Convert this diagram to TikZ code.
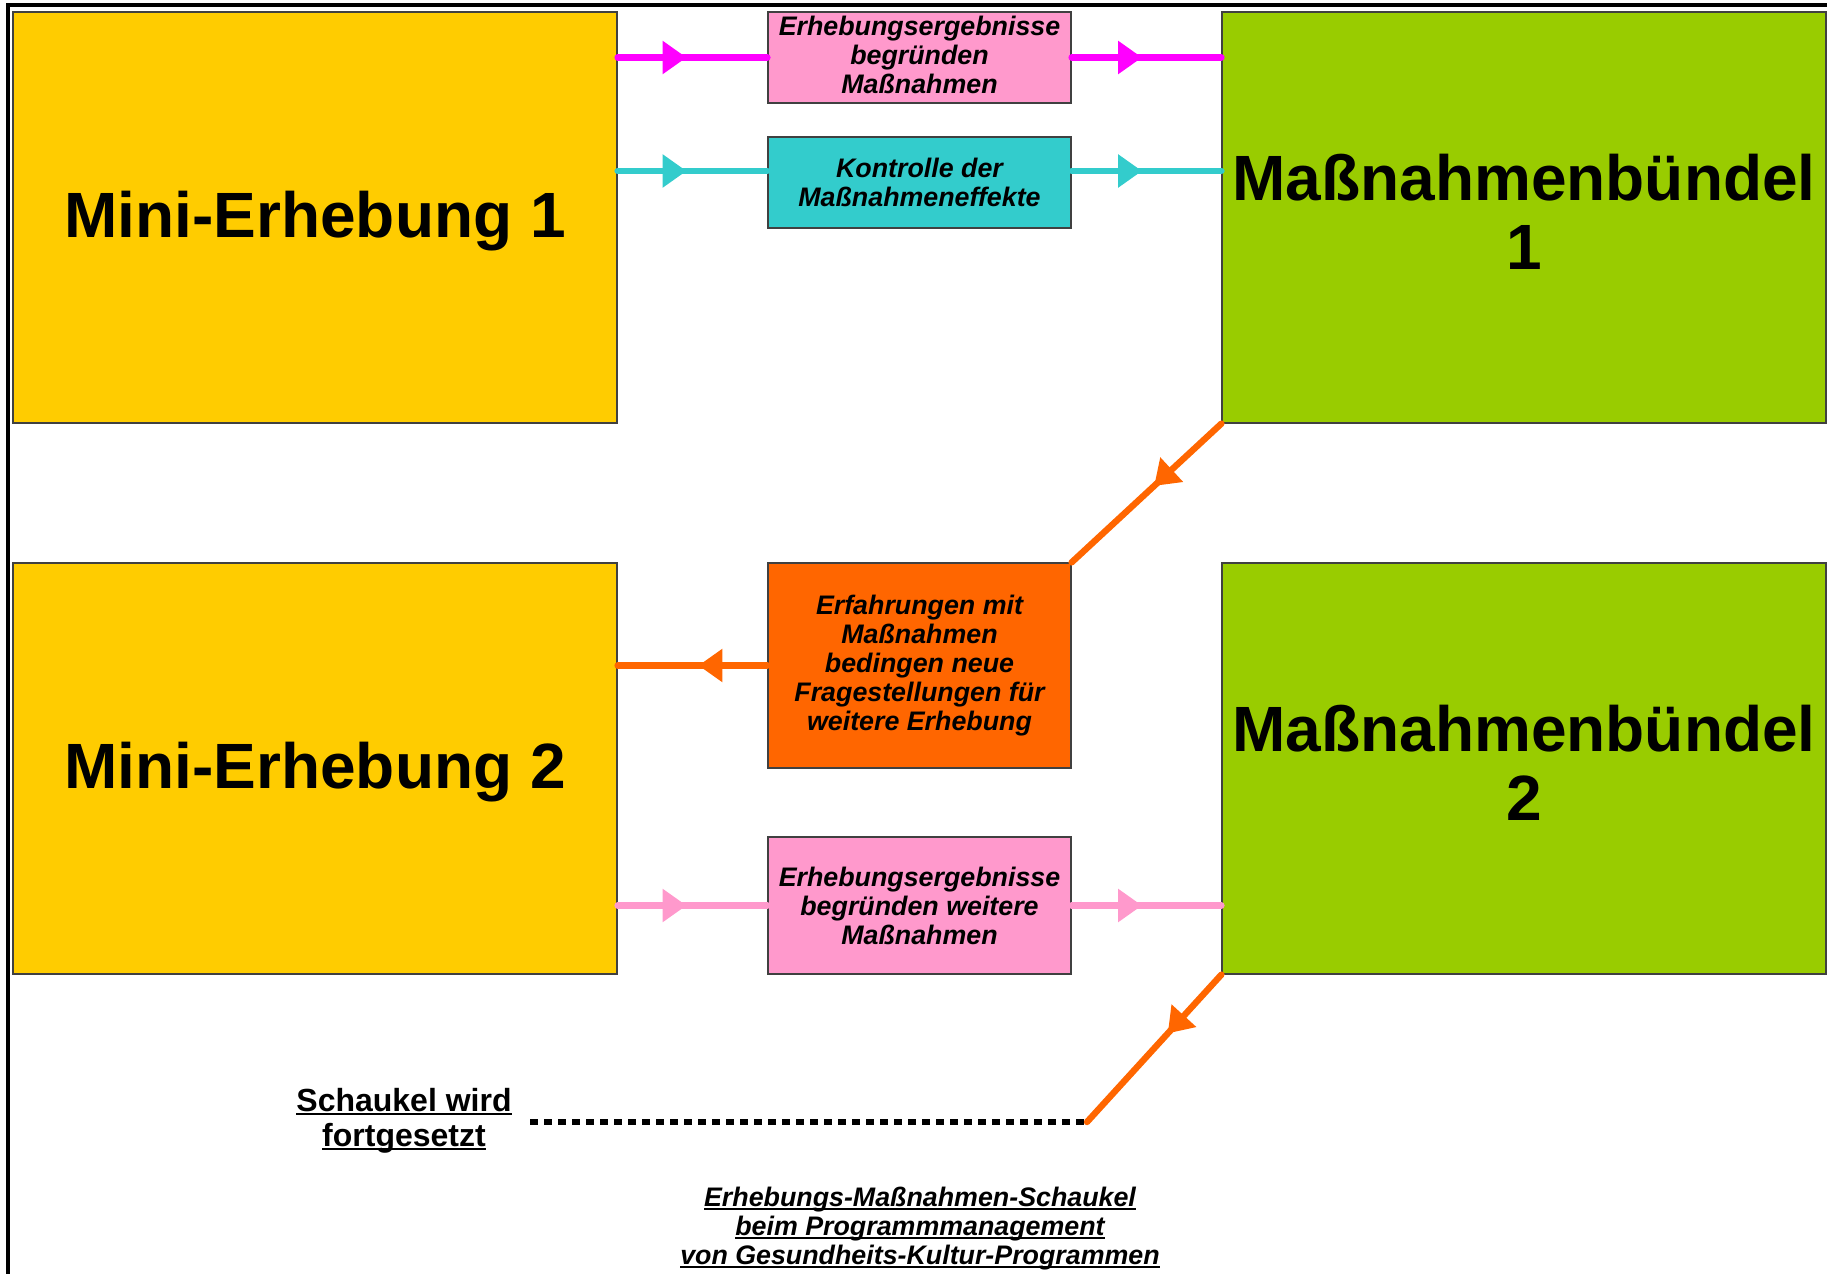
\documentclass[tikz,border=0pt]{standalone}
\usepackage{fontspec}
\setmainfont{Liberation Sans}
\usetikzlibrary{arrows.meta,decorations.markings}
\definecolor{gelb}{HTML}{FFCC00}
\definecolor{gruen}{HTML}{99CC00}
\definecolor{rosa}{HTML}{FF99CC}
\definecolor{tuerkis}{HTML}{33CCCC}
\definecolor{orange}{HTML}{FF6600}
\definecolor{magenta}{HTML}{FF00FF}
\newcommand\unterstr[1]{\setbox0\hbox{#1}\rlap{\rule[-1.6pt]{\wd0}{1.1pt}}\box0}
\tikzset{
  box/.style={draw=black!75,line width=0.6pt,inner sep=0pt,align=center,font=\bfseries\itshape\fontsize{13.4}{14.5}\selectfont},
  bigbox/.style={draw=black!75,line width=0.6pt,inner sep=0pt,align=center,minimum width=302pt,minimum height=205.5pt,font=\bfseries\fontsize{32}{34.5}\selectfont},
  smallbox/.style={box,minimum width=151.5pt},
  pfeil/.style={line width=3.2pt,line cap=round,postaction={decorate},
    decoration={markings,mark=at position #1 with {\arrow{Triangle[length=12pt,width=16pt]}}}},
}
\begin{document}
\begin{tikzpicture}[x=0.5pt,y=-0.5pt]
	\useasboundingbox (0,0) rectangle (1827,1274);
	% rahmen
	\draw[line width=1.6pt] (8,1280) -- (8,5) -- (1830,5);
	% grosse kaesten
	\node[bigbox,fill=gelb] (me1) at (315,217.5) {\rule{0pt}{27pt}Mini-Erhebung 1};
	\node[bigbox,fill=gruen] (mb1) at (1524,217.5) {Maßnahmenbündel\\1\rule[-6pt]{0pt}{6pt}};
	\node[bigbox,fill=gelb] (me2) at (315,768.5) {\rule{0pt}{27pt}Mini-Erhebung 2};
	\node[bigbox,fill=gruen] (mb2) at (1524,768.5) {Maßnahmenbündel\\2\rule[-6pt]{0pt}{6pt}};
	% kleine kaesten
	\node[smallbox,fill=rosa,minimum height=45.5pt] (erg1) at (919.5,57.5) {Erhebungsergebnisse\\begründen\\Maßnahmen\rule[-3pt]{0pt}{3pt}};
	\node[smallbox,fill=tuerkis,minimum height=45.5pt] (kontr) at (919.5,182.5) {Kontrolle der\\Maßnahmeneffekte};
	\node[smallbox,fill=orange,minimum height=102.5pt] (erf) at (919.5,665.5) {Erfahrungen mit\\Maßnahmen\\bedingen neue\\Fragestellungen für\\weitere Erhebung};
	\node[smallbox,fill=rosa,minimum height=68.5pt] (erg2) at (919.5,905.5) {Erhebungsergebnisse\\begründen weitere\\Maßnahmen};
	% texte unten
	\node[align=center,font=\bfseries\fontsize{16}{17.5}\selectfont] (schaukel) at (404,1121) {\unterstr{Schaukel wird}\\\unterstr{fortgesetzt}};
	\node[align=center,font=\bfseries\itshape\fontsize{13.4}{14.5}\selectfont] (titel) at (920,1229)
	  {\unterstr{Erhebungs-Maßnahmen-Schaukel}\\\unterstr{beim Programmmanagement}\\\unterstr{von Gesundheits-Kultur-Programmen}};
	\path (0,171) coordinate (k) (530,1122) coordinate (d1) (1087,1122) coordinate (d2);
	% pfeile
	\draw[pfeil=0.46,magenta] (me1.east |- erg1.west) -- (erg1.west);
	\draw[pfeil=0.47,magenta] (erg1.east) -- (mb1.west |- erg1.east);
	\draw[pfeil=0.46,tuerkis] (me1.east |- k) -- (kontr.west |- k);
	\draw[pfeil=0.47,tuerkis] (kontr.east |- k) -- (mb1.west |- k);
	\draw[pfeil=0.45,orange] (mb1.south west) -- (erf.north east);
	\draw[pfeil=0.46,orange] (erf.west) -- (me2.east |- erf.west);
	\draw[pfeil=0.46,rosa] (me2.east |- erg2.west) -- (erg2.west);
	\draw[pfeil=0.47,rosa] (erg2.east) -- (mb2.west |- erg2.east);
	\draw[pfeil=0.4,orange] (mb2.south west) -- (d2);
	\draw[line width=3.2pt,dash pattern=on 4pt off 3pt] (d1) -- (d2);
\end{tikzpicture}
\end{document}
